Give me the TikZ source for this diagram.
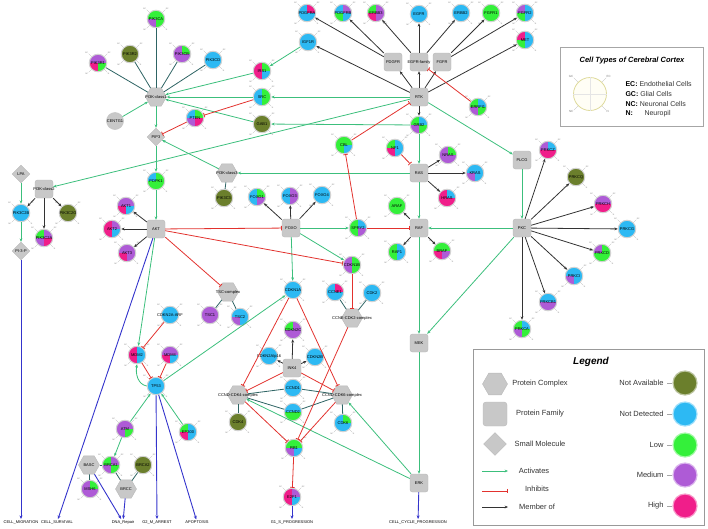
\documentclass[tikz,border=0pt]{standalone}
\usepackage{fontspec}
\setmainfont{Liberation Sans}
\usetikzlibrary{positioning,arrows.meta,shapes.geometric}
\definecolor{actgreen}{HTML}{3CBF7C}
\definecolor{inhred}{HTML}{E2322E}
\definecolor{cpxteal}{HTML}{2E6464}
\definecolor{outblue}{HTML}{3434CC}
\definecolor{boxgray}{HTML}{C8C8C8}
\definecolor{cNA}{HTML}{6B7F2C}
\definecolor{cND}{HTML}{2DB9F3}
\definecolor{cLO}{HTML}{34F03A}
\definecolor{cME}{HTML}{AE5BD6}
\definecolor{cHI}{HTML}{F01E8A}

% protein node: name, position, text, GC, EC, NC, N colours
\newcommand{\prot}[7]{%
  \node[prot={#4}{#5}{#6}{#7}, label={[nm]center:#3}] (#1) at (#2) {};
  \foreach \ang/\ct/\anc in {135/GC/south east,45/EC/south west,225/NC/north east,-45/N/north west}
    \draw[tick] (#1.\ang) -- ++(\ang:4pt) node[ticklab, anchor=\anc] {\ct};
}

\begin{document}
\begin{tikzpicture}[
    x=1pt, y=-1pt,
    nm/.style={font=\fontsize{4}{4}\selectfont, inner sep=0pt},
    prot/.style n args={4}{circle, draw=gray!35, line width=1pt, minimum size=17.5pt,
        inner sep=0pt,
        path picture={
          \fill[#1] (path picture bounding box.center) rectangle (path picture bounding box.north west);
          \fill[#2] (path picture bounding box.center) rectangle (path picture bounding box.north east);
          \fill[#3] (path picture bounding box.center) rectangle (path picture bounding box.south west);
          \fill[#4] (path picture bounding box.center) rectangle (path picture bounding box.south east);}},
    tick/.style={draw=gray!60, line width=0.3pt},
    ticklab/.style={font=\fontsize{2}{2}\selectfont, text=gray, inner sep=0.3pt},
    fam/.style={rectangle, rounded corners=2.5pt, fill=boxgray, draw=gray!55, line width=0.4pt,
        minimum size=18pt, inner sep=0pt},
    cplx/.style={regular polygon, regular polygon sides=6, fill=boxgray, draw=gray!55,
        line width=0.4pt, minimum size=21pt, inner sep=0pt},
    mol/.style={diamond, fill=boxgray, draw=gray!55, line width=0.4pt, minimum size=18pt, inner sep=0pt},
    outc/.style={font=\fontsize{4}{4}\selectfont, inner sep=1pt},
    act/.style={draw=actgreen, line width=0.8pt, -{Stealth[length=3.4pt,width=2.8pt]}},
    inh/.style={draw=inhred, line width=0.8pt, -{Bar[width=4.5pt]}},
    memb/.style={draw=black!80, line width=0.8pt, -{Stealth[length=3.4pt,width=2.8pt]}},
    cpx/.style={draw=cpxteal, line width=0.8pt},
    res/.style={draw=outblue, line width=0.9pt, -{Stealth[length=3.6pt,width=3pt]}},
    lt/.style={font=\fontsize{7.5}{9}\selectfont, text=black!80},
    legc/.style={circle, fill=#1, draw=#1!45, line width=1.2pt, minimum size=24pt},
]
\useasboundingbox (0,0) rectangle (708,528);

% complexes, families and small molecules
\node[cplx, label={[nm]center:PI3K-class1}] (pi3kc1) at (156,97) {};
\node[cplx, label={[nm]center:PI3K-class3}] (pi3kc3) at (227,173) {};
\node[cplx, label={[nm]center:TSC-complex}] (tsc) at (228,292) {};
\node[cplx, label={[nm]center:CCNE-CDK2-complex}] (ccnecdk2) at (352,318) {};
\node[cplx, label={[nm]center:CCND-CDK4-complex}] (ccndcdk4) at (238,395) {};
\node[cplx, label={[nm]center:CCND-CDK6-complex}] (ccndcdk6) at (342,395) {};
\node[cplx, label={[nm]center:BASC}] (basc) at (89,465) {};
\node[cplx, label={[nm]center:BRCC}] (brcc) at (126,489) {};

\node[fam, label={[nm]center:PI3K-class2}] (pi3kc2) at (44,189) {};
\node[fam, label={[nm]center:AKT}] (akt) at (156,229) {};
\node[fam, label={[nm]center:FOXO}] (foxo) at (291,228) {};
\node[fam, label={[nm]center:PDGFR}] (pdgfr) at (393,62) {};
\node[fam, label={[nm]center:EGFR-family}] (egfrfam) at (419,62) {};
\node[fam, label={[nm]center:FGFR}] (fgfr) at (442,62) {};
\node[fam, label={[nm]center:RTK}] (rtk) at (419,97) {};
\node[fam, label={[nm]center:RAS}] (ras) at (419,173) {};
\node[fam, label={[nm]center:RAF}] (raf) at (419,228) {};
\node[fam, label={[nm]center:PLCG}] (plcg) at (522,160) {};
\node[fam, label={[nm]center:PKC}] (pkc) at (522,228) {};
\node[fam, label={[nm]center:MEK}] (mek) at (419,343) {};
\node[fam, label={[nm]center:ERK}] (erk) at (419,483) {};
\node[fam, label={[nm]center:INK4}] (ink4) at (292,368) {};

\node[mol, label={[nm]center:PIP3}] (pip3) at (156,137) {};
\node[mol, label={[nm]center:LPA}] (lpa) at (21,174) {};
\node[mol, label={[nm]center:PI-3-P}] (pi3p) at (21,251) {};

\node[circle, fill=boxgray, draw=gray!45, line width=0.6pt, minimum size=17pt, nm] (centg1) at (115,121) {CENTG1};

% proteins
\prot{pik3ca}{156,19}{PIK3CA}{cLO}{cLO}{cME}{cLO}
\prot{pik3r2}{130,54}{PIK3R2}{cNA}{cNA}{cNA}{cNA}
\prot{pik3r1}{98,63}{PIK3R1}{cME}{cME}{cHI}{cLO}
\prot{pik3cb}{182,54}{PIK3CB}{cME}{cLO}{cME}{cME}
\prot{pik3cd}{213,60}{PIK3CD}{cND}{cND}{cND}{cND}
\prot{igf1r}{308,42}{IGF1R}{cND}{cND}{cND}{cND}
\prot{irs1}{262,71}{IRS1}{cHI}{cLO}{cHI}{cND}
\prot{src}{262,97}{SRC}{cND}{cLO}{cND}{cLO}
\prot{gab1}{262,124}{GAB1}{cNA}{cNA}{cNA}{cNA}
\prot{pten}{195,118}{PTEN}{cND}{cLO}{cME}{cHI}
\prot{cbl}{344,145}{CBL}{cLO}{cLO}{cLO}{cND}
\prot{pdgfra}{307,13}{PDGFRA}{cND}{cHI}{cND}{cND}
\prot{pdgfrb}{343,13}{PDGFRB}{cND}{cME}{cLO}{cND}
\prot{erbb3}{376,13}{ERBB3}{cLO}{cME}{cHI}{cME}
\prot{egfr}{419,14}{EGFR}{cND}{cND}{cND}{cND}
\prot{erbb2}{461,13}{ERBB2}{cND}{cND}{cND}{cND}
\prot{fgfr1}{491,13}{FGFR1}{cLO}{cLO}{cLO}{cLO}
\prot{fgfr2}{525,13}{FGFR2}{cME}{cND}{cLO}{cND}
\prot{met}{525,40}{MET}{cHI}{cND}{cLO}{cND}
\prot{errfi1}{478,107}{ERRFI1}{cLO}{cND}{cME}{cLO}
\prot{grb2}{419,125}{GRB2}{cLO}{cND}{cME}{cLO}
\prot{nf1}{395,148}{NF1}{cLO}{cND}{cHI}{cND}
\prot{nras}{448,155}{NRAS}{cME}{cLO}{cME}{cME}
\prot{kras}{475,173}{KRAS}{cND}{cND}{cME}{cND}
\prot{hras}{447,198}{HRAS}{cHI}{cND}{cHI}{cHI}
\prot{araf}{397,206}{ARAF}{cLO}{cLO}{cLO}{cLO}
\prot{raf1}{397,252}{RAF1}{cLO}{cND}{cLO}{cND}
\prot{braf}{442,251}{BRAF}{cLO}{cLO}{cHI}{cME}
\prot{spry2}{358,228}{SPRY2}{cLO}{cND}{cLO}{cME}
\prot{prkcz}{548,150}{PRKCZ}{cME}{cND}{cHI}{cHI}
\prot{prkcq}{576,177}{PRKCQ}{cNA}{cNA}{cNA}{cNA}
\prot{prkch}{603,204}{PRKCH}{cME}{cME}{cHI}{cHI}
\prot{prkcg}{627,229}{PRKCG}{cND}{cND}{cND}{cND}
\prot{prkcd}{602,253}{PRKCD}{cME}{cLO}{cLO}{cLO}
\prot{prkci}{574,276}{PRKCI}{cND}{cND}{cME}{cND}
\prot{prkcb1}{548,302}{PRKCB1}{cND}{cND}{cME}{cME}
\prot{prkca}{522,329}{PRKCA}{cLO}{cND}{cME}{cLO}
\prot{pdpk1}{156,181}{PDPK1}{cND}{cLO}{cLO}{cLO}
\prot{pik3c2b}{21,213}{PIK3C2B}{cND}{cND}{cND}{cND}
\prot{pik3c2g}{68,213}{PIK3C2G}{cNA}{cNA}{cNA}{cNA}
\prot{pik3c2a}{44,238}{PIK3C2A}{cLO}{cME}{cME}{cHI}
\prot{akt1}{126,206}{AKT1}{cME}{cME}{cHI}{cND}
\prot{akt2}{112,229}{AKT2}{cHI}{cME}{cHI}{cND}
\prot{akt3}{127,253}{AKT3}{cME}{cME}{cHI}{cME}
\prot{pik3c3}{224,198}{PIK3C3}{cNA}{cNA}{cNA}{cNA}
\prot{foxo1}{257,197}{FOXO1}{cND}{cLO}{cND}{cME}
\prot{foxo3}{290,196}{FOXO3}{cND}{cME}{cND}{cME}
\prot{foxo4}{322,195}{FOXO4}{cND}{cND}{cND}{cND}
\prot{cdkn1b}{352,265}{CDKN1B}{cME}{cLO}{cME}{cLO}
\prot{ccne1}{335,292}{CCNE1}{cND}{cHI}{cND}{cND}
\prot{cdk2}{372,293}{CDK2}{cND}{cND}{cND}{cND}
\prot{cdkn1a}{293,290}{CDKN1A}{cND}{cND}{cND}{cND}
\prot{cdkn2c}{293,330}{CDKN2C}{cLO}{cME}{cME}{cME}
\prot{tsc1}{210,315}{TSC1}{cME}{cME}{cME}{cME}
\prot{tsc2}{240,317}{TSC2}{cND}{cND}{cME}{cND}
\prot{cdkn2aarf}{170,315}{CDKN2A-ARF}{cND}{cND}{cND}{cND}
\prot{mdm2}{137,355}{MDM2}{cHI}{cND}{cHI}{cND}
\prot{mdm4}{170,355}{MDM4}{cME}{cME}{cHI}{cND}
\prot{tp53}{156,386}{TP53}{cND}{cND}{cND}{cND}
\prot{atm}{125,429}{ATM}{cME}{cME}{cME}{cLO}
\prot{brca1}{111,465}{BRCA1}{cLO}{cME}{cME}{cLO}
\prot{brca2}{143,465}{BRCA2}{cNA}{cNA}{cNA}{cNA}
\prot{msh6}{90,489}{MSH6}{cME}{cLO}{cME}{cME}
\prot{ep300}{188,432}{EP300}{cLO}{cND}{cHI}{cND}
\prot{cdkn2ap16}{269,356}{CDKN2A/p16}{cND}{cND}{cND}{cND}
\prot{cdkn2b}{315,357}{CDKN2B}{cND}{cND}{cND}{cND}
\prot{ccnd1}{293,388}{CCND1}{cND}{cND}{cND}{cND}
\prot{ccnd2}{293,412}{CCND2}{cND}{cND}{cLO}{cLO}
\prot{cdk4}{238,422}{CDK4}{cNA}{cNA}{cNA}{cNA}
\prot{cdk6}{343,423}{CDK6}{cND}{cLO}{cND}{cND}
\prot{rb1}{294,448}{RB1}{cLO}{cLO}{cME}{cND}
\prot{e2f1}{292,497}{E2F1}{cHI}{cME}{cHI}{cND}

% outcomes
\node[outc] (migr) at (21,522) {CELL\_MIGRATION};
\node[outc] (surv) at (57,522) {CELL\_SURVIVAL};
\node[outc] (dnarep) at (123,522) {DNA\_Repair};
\node[outc] (g2m) at (157,522) {G2\_M\_ARREST};
\node[outc] (apop) at (197,522) {APOPTOSIS};
\node[outc] (g1s) at (292,522) {G1\_S\_PROGRESSION};
\node[outc] (ccp) at (418,522) {CELL\_CYCLE\_PROGRESSION};

% complex members
\draw[cpx] (pik3ca) -- (pi3kc1);
\draw[cpx] (pik3r2) -- (pi3kc1);
\draw[cpx] (pik3r1) -- (pi3kc1);
\draw[cpx] (pik3cb) -- (pi3kc1);
\draw[cpx] (pik3cd) -- (pi3kc1);
\draw[cpx] (pik3c3) -- (pi3kc3);
\draw[cpx] (tsc1) -- (tsc);
\draw[cpx] (tsc2) -- (tsc);
\draw[cpx] (ccne1) -- (ccnecdk2);
\draw[cpx] (cdk2) -- (ccnecdk2);
\draw[cpx] (ccnd1) -- (ccndcdk4);
\draw[cpx] (ccnd2) -- (ccndcdk4);
\draw[cpx] (cdk4) -- (ccndcdk4);
\draw[cpx] (ccnd1) -- (ccndcdk6);
\draw[cpx] (ccnd2) -- (ccndcdk6);
\draw[cpx] (cdk6) -- (ccndcdk6);
\draw[cpx] (brca1) -- (basc);
\draw[cpx] (msh6) -- (basc);
\draw[cpx] (brca1) -- (brcc);
\draw[cpx] (brca2) -- (brcc);

% family members
\draw[memb] (pi3kc2) -- (pik3c2b);
\draw[memb] (pi3kc2) -- (pik3c2a);
\draw[memb] (pi3kc2) -- (pik3c2g);
\draw[memb] (akt) -- (akt1);
\draw[memb] (akt) -- (akt2);
\draw[memb] (akt) -- (akt3);
\draw[memb] (foxo) -- (foxo1);
\draw[memb] (foxo) -- (foxo3);
\draw[memb] (foxo) -- (foxo4);
\draw[memb] (rtk) -- (pdgfr);
\draw[memb] (rtk) -- (egfrfam);
\draw[memb] (rtk) -- (fgfr);
\draw[memb] (rtk) -- (igf1r);
\draw[memb] (rtk) -- (met);
\draw[memb] (rtk) -- (grb2);
\draw[memb] (pdgfr) -- (pdgfra);
\draw[memb] (pdgfr) -- (pdgfrb);
\draw[memb] (egfrfam) -- (erbb3);
\draw[memb] (egfrfam) -- (egfr);
\draw[memb] (egfrfam) -- (erbb2);
\draw[memb] (fgfr) -- (fgfr1);
\draw[memb] (fgfr) -- (fgfr2);
\draw[memb] (ras) -- (nras);
\draw[memb] (ras) -- (kras);
\draw[memb] (ras) -- (hras);
\draw[memb] (raf) -- (araf);
\draw[memb] (raf) -- (raf1);
\draw[memb] (raf) -- (braf);
\draw[memb] (pkc) -- (prkcz);
\draw[memb] (pkc) -- (prkcq);
\draw[memb] (pkc) -- (prkch);
\draw[memb] (pkc) -- (prkcg);
\draw[memb] (pkc) -- (prkcd);
\draw[memb] (pkc) -- (prkci);
\draw[memb] (pkc) -- (prkcb1);
\draw[memb] (pkc) -- (prkca);
\draw[memb] (ink4) -- (cdkn2ap16);
\draw[memb] (ink4) -- (cdkn2b);
\draw[memb] (ink4) -- (cdkn2c);

% activations
\draw[act] (irs1) -- (pi3kc1);
\draw[act] (src) -- (pi3kc1);
\draw[act] (gab1) -- (pi3kc1);
\draw[act] (centg1) -- (pi3kc1);
\draw[act] (pi3kc1) -- (pip3);
\draw[act] (pi3kc3) -- (pip3);
\draw[act] (pip3) -- (pdpk1);
\draw[act] (pdpk1) -- (akt);
\draw[act] (lpa) -- (pik3c2b);
\draw[act] (pik3c2b) -- (pi3p);
\draw[act] (rtk) -- (pi3kc2);
\draw[act] (rtk) -- (src);
\draw[act] (igf1r) -- (irs1);
\draw[act] (grb2) -- (gab1);
\draw[act] (grb2) -- (ras);
\draw[act] (rtk) -- (plcg);
\draw[act] (plcg) -- (pkc);
\draw[act] (ras) -- (raf);
\draw[act] (ras) -- (pi3kc3);
\draw[act] (pkc) -- (raf);
\draw[act] (pkc) -- (mek);
\draw[act] (raf) -- (mek);
\draw[act] (mek) -- (erk);
\draw[act] (erk) -- (ccndcdk4);
\draw[act] (erk) -- (ccndcdk6);
\draw[act] (akt) -- (mdm2);
\draw[act] (foxo) -- (spry2);
\draw[act] (foxo) -- (cdkn1b);
\draw[act] (foxo) -- (cdkn1a);
\draw[act] (tp53) -- (cdkn1a);
\draw[act] (tp53.west) to[out=170, in=260] (mdm2.south);
\draw[act] (atm) -- (tp53);
\draw[act] (atm) -- (brca1);
\draw[act] (ep300) -- (tp53);

% inhibitions
\draw[inh] (src) -- (pten);
\draw[inh] (pten) -- (pip3);
\draw[inh] (cbl) -- (rtk);
\draw[inh] (spry2) -- (cbl);
\draw[inh] (spry2) -- (raf);
\draw[inh] (errfi1) -- (egfrfam);
\draw[inh] (nf1) -- (ras);
\draw[inh] (akt) -- (foxo);
\draw[inh] (akt) -- (tsc);
\draw[inh] (akt) -- (cdkn1b);
\draw[inh] (cdkn2aarf) -- (mdm2);
\draw[inh] (mdm2) -- (tp53);
\draw[inh] (mdm4) -- (tp53);
\draw[inh] (cdkn1b) -- (ccnecdk2);
\draw[inh] (cdkn1a) -- (ccndcdk4);
\draw[inh] (cdkn1a) -- (ccndcdk6);
\draw[inh] (ink4) -- (ccndcdk4);
\draw[inh] (ink4) -- (ccndcdk6);
\draw[inh] (ccnecdk2) -- (rb1);
\draw[inh] (ccndcdk4) -- (rb1);
\draw[inh] (ccndcdk6) -- (rb1);
\draw[inh] (rb1) -- (e2f1);

% outcomes
\draw[res] (pi3p) -- (migr);
\draw[res] (akt) -- (surv);
\draw[res] (basc) -- (dnarep);
\draw[res] (brcc) -- (dnarep);
\draw[res] (tp53) -- (g2m);
\draw[res] (tp53) -- (apop);
\draw[res] (e2f1) -- (g1s);
\draw[res] (erk) -- (ccp);

% cell types box
\draw[gray!70, line width=0.8pt] (560,47) rectangle (703,126);
\node[font=\bfseries\itshape\fontsize{7.5}{9}\selectfont] (cttitle) at (632,61) {Cell Types of Cerebral Cortex};
\node[circle, fill=yellow!4, draw=olive!30, line width=0.8pt, minimum size=33pt] (ctc) at (590,94) {};
\draw[gray!20, line width=0.3pt] (ctc.north) -- (ctc.south);
\draw[gray!20, line width=0.3pt] (ctc.west) -- (ctc.east);
\foreach \ang/\ct/\anc in {135/GC/south east,45/EC/south west,225/NC/north east,-45/N/north west}
  \draw[tick] (ctc.\ang) -- ++(\ang:6pt) node[ticklab, font=\fontsize{3}{3}\selectfont, anchor=\anc] {\ct};
\node[lt, anchor=west, font=\fontsize{7}{8}\selectfont] (ctec) at (622,84) {\textbf{\color{black}EC:} Endothelial Cells};
\node[lt, anchor=west, font=\fontsize{7}{8}\selectfont] (ctgc) at (622,94) {\textbf{\color{black}GC:} Glial Cells};
\node[lt, anchor=west, font=\fontsize{7}{8}\selectfont] (ctnc) at (622,104) {\textbf{\color{black}NC:} Neuronal Cells};
\node[lt, anchor=west, font=\fontsize{7}{8}\selectfont] (ctn) at (622,114) {\makebox[19pt][l]{\textbf{\color{black}N:}}Neuropil};

% legend
\draw[gray!80, line width=0.8pt] (473,349) rectangle (704,525);
\node[font=\bfseries\itshape\fontsize{10}{12}\selectfont] (legtitle) at (591,362) {Legend};
\node[cplx, minimum size=25pt] (lgcx) at (495,384) {};
\node[lt] (lgcxt) at (540,384) {Protein Complex};
\node[fam, minimum size=24pt, rounded corners=3pt] (lgfm) at (495,414) {};
\node[lt] (lgfmt) at (540,414) {Protein Family};
\node[mol, minimum size=23pt] (lgml) at (495,444) {};
\node[lt] (lgmlt) at (540,444) {Small Molecule};
\coordinate (lga1) at (482,471); \coordinate (lga2) at (508,471);
\coordinate (lgi1) at (482,491); \coordinate (lgi2) at (508,491);
\coordinate (lgm1) at (482,507); \coordinate (lgm2) at (508,507);
\draw[act] (lga1) -- (lga2);
\draw[inh] (lgi1) -- (lgi2);
\draw[memb] (lgm1) -- (lgm2);
\node[lt] (lgat) at (534,471) {Activates};
\node[lt] (lgit) at (537,489) {Inhibits};
\node[lt] (lgmt) at (537,507) {Member of};

\node[legc=cNA] (lna) at (685,383) {};
\node[legc=cND] (lnd) at (685,414) {};
\node[legc=cLO] (llo) at (685,445) {};
\node[legc=cME] (lme) at (685,475) {};
\node[legc=cHI] (lhi) at (685,506) {};
\node[lt, anchor=east] (tna) at (667,383) {Not Available};
\node[lt, anchor=east] (tnd) at (667,414) {Not Detected};
\node[lt, anchor=east] (tlo) at (667,445) {Low};
\node[lt, anchor=east] (tme) at (667,475) {Medium};
\node[lt, anchor=east] (thi) at (667,506) {High};
\draw[gray!70, line width=0.4pt] (tna) -- (lna);
\draw[gray!70, line width=0.4pt] (tnd) -- (lnd);
\draw[gray!70, line width=0.4pt] (tlo) -- (llo);
\draw[gray!70, line width=0.4pt] (tme) -- (lme);
\draw[gray!70, line width=0.4pt] (thi) -- (lhi);
\end{tikzpicture}
\end{document}
